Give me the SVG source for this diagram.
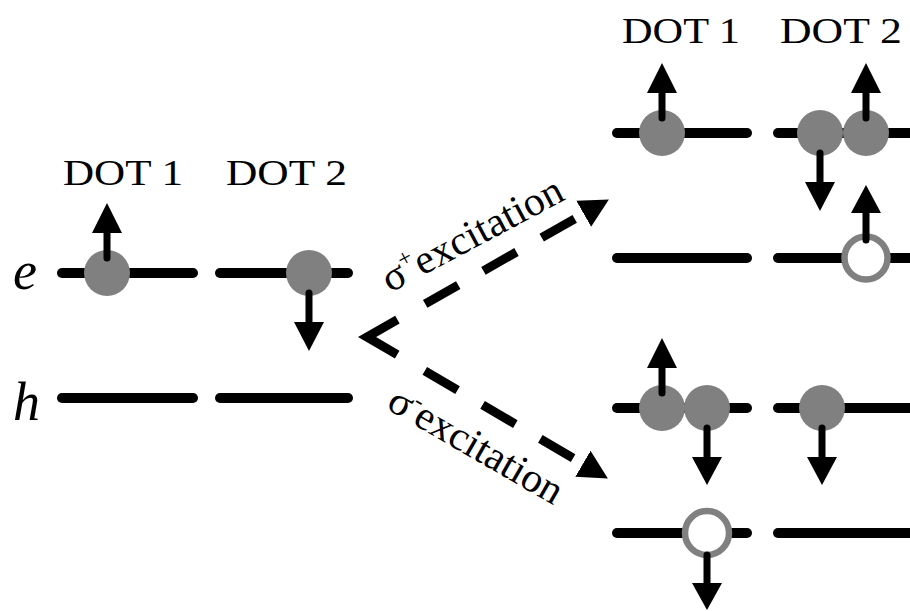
<svg xmlns="http://www.w3.org/2000/svg" width="910" height="611" viewBox="0 0 910 611">
<style>
.lvl{stroke:#000;stroke-width:10;stroke-linecap:round;fill:none}
.dot{fill:#808080}
.hole{fill:#fff;stroke:#808080;stroke-width:6.5}
.sh{stroke:#000;stroke-width:7;stroke-linecap:round;fill:none}
.hd{fill:#000}
.lbl{font-family:"Liberation Serif","Times New Roman",serif;font-size:35px;fill:#000}
.it{font-family:"Liberation Serif","Times New Roman",serif;font-size:54px;font-style:italic;fill:#000}
.ex{font-family:"Liberation Serif","Times New Roman",serif;font-size:41px;fill:#000}
.dash{stroke:#000;stroke-width:9;fill:none;stroke-dasharray:38 29}
</style>
<defs>
<marker id="ah" markerUnits="userSpaceOnUse" markerWidth="40" markerHeight="40" viewBox="0 -20 40 40" refX="0" refY="0" orient="auto">
<path d="M0,-15 L29,0 L0,15 Z" fill="#000"/>
</marker>
</defs>
<rect width="910" height="611" fill="#fff"/>

<g id="left-labels">
<text class="lbl" x="63" y="185" textLength="120" lengthAdjust="spacingAndGlyphs">DOT 1</text>
<text class="lbl" x="226" y="185" textLength="121" lengthAdjust="spacingAndGlyphs">DOT 2</text>
<text class="it" x="13" y="289">e</text>
<text class="it" x="13" y="420">h</text>
</g>

<g id="initial-state">
<line class="lvl" x1="62" y1="273" x2="193" y2="273"/>
<line class="lvl" x1="220" y1="273" x2="348" y2="273"/>
<line class="lvl" x1="62" y1="398" x2="193" y2="398"/>
<line class="lvl" x1="220" y1="398" x2="348" y2="398"/>
<circle class="dot" cx="107" cy="273" r="23"/>
<circle class="dot" cx="309" cy="273" r="23"/>
<line class="sh" x1="107" y1="258" x2="107" y2="232"/>
<polygon class="hd" points="92,233 122,233 107,203"/>
<line class="sh" x1="309" y1="293" x2="309" y2="323"/>
<polygon class="hd" points="294,322 324,322 309,351"/>
</g>

<g id="right-labels">
<text class="lbl" x="622" y="43" textLength="118" lengthAdjust="spacingAndGlyphs">DOT 1</text>
<text class="lbl" x="780" y="43" textLength="122" lengthAdjust="spacingAndGlyphs">DOT 2</text>
</g>

<g id="sigma-plus-state">
<line class="lvl" x1="617" y1="133" x2="747" y2="133"/>
<line class="lvl" x1="778" y1="133" x2="918" y2="133"/>
<line class="lvl" x1="617" y1="258" x2="747" y2="258"/>
<line class="lvl" x1="778" y1="258" x2="918" y2="258"/>
<circle class="dot" cx="662" cy="133" r="23"/>
<circle class="dot" cx="820" cy="133" r="23"/>
<circle class="dot" cx="866" cy="133" r="23"/>
<circle class="hole" cx="866" cy="258" r="21.5"/>
<line class="sh" x1="662" y1="118" x2="662" y2="92"/>
<polygon class="hd" points="647,93 677,93 662,63"/>
<line class="sh" x1="866" y1="118" x2="866" y2="92"/>
<polygon class="hd" points="851,93 881,93 866,63"/>
<line class="sh" x1="820" y1="153" x2="820" y2="183"/>
<polygon class="hd" points="805,182 835,182 820,211"/>
<line class="sh" x1="866" y1="240" x2="866" y2="212"/>
<polygon class="hd" points="851,213 881,213 866,185"/>
</g>

<g id="sigma-minus-state">
<line class="lvl" x1="617" y1="408" x2="747" y2="408"/>
<line class="lvl" x1="778" y1="408" x2="918" y2="408"/>
<line class="lvl" x1="617" y1="533" x2="747" y2="533"/>
<line class="lvl" x1="778" y1="533" x2="918" y2="533"/>
<circle class="dot" cx="662" cy="408" r="23"/>
<circle class="dot" cx="707" cy="408" r="23"/>
<circle class="dot" cx="822" cy="408" r="23"/>
<circle class="hole" cx="707" cy="533" r="22"/>
<line class="sh" x1="662" y1="393" x2="662" y2="367"/>
<polygon class="hd" points="647,368 677,368 662,338"/>
<line class="sh" x1="707" y1="428" x2="707" y2="458"/>
<polygon class="hd" points="692,457 722,457 707,485"/>
<line class="sh" x1="822" y1="428" x2="822" y2="458"/>
<polygon class="hd" points="807,457 837,457 822,485"/>
<line class="sh" x1="707" y1="555" x2="707" y2="584"/>
<polygon class="hd" points="692,583 722,583 707,610"/>
</g>

<g id="connectors">
<polyline points="397.4,319.7 367,337 397.2,354.7" fill="none" stroke="#000" stroke-width="9" stroke-linejoin="miter"/>
<path class="dash" d="M425.2,303.9 L583.7,213.8" marker-end="url(#ah)"/>
<path class="dash" d="M424.8,370.9 L582.9,463.8" marker-end="url(#ah)"/>
</g>

<g id="edge-labels">
<text class="ex" transform="translate(390,293) rotate(-28)" textLength="200" lengthAdjust="spacingAndGlyphs">σ<tspan font-size="24" dy="-16">+</tspan><tspan dy="16">excitation</tspan></text>
<text class="ex" transform="translate(385,408) rotate(30)" textLength="195" lengthAdjust="spacingAndGlyphs">σ<tspan font-size="24" dy="-16">-</tspan><tspan dy="16">excitation</tspan></text>
</g>
</svg>
